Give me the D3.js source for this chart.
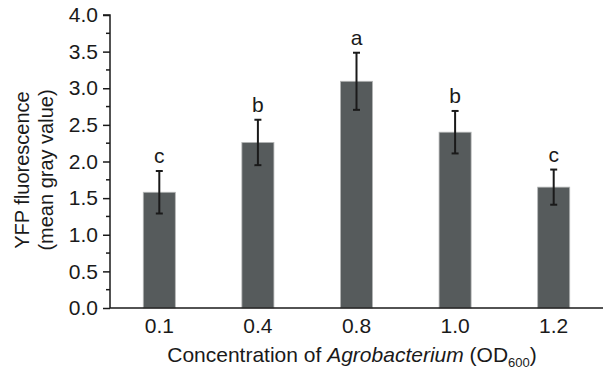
<!DOCTYPE html>
<html>
<head>
<meta charset="utf-8">
<script src="https://cdn.jsdelivr.net/npm/d3@7"></script>
<style>
  body { margin: 0; background: #fff; }
  text { font-family: "Liberation Sans", Arial, sans-serif; fill: #1a1a1a; }
</style>
</head>
<body>
<svg id="chart" width="606" height="374"></svg>
<script>
// Data
const concentrations = ["0.1", "0.4", "0.8", "1.0", "1.2"];
const means = [1.58, 2.26, 3.095, 2.40, 1.65];
const errors = [0.29, 0.31, 0.39, 0.29, 0.24];
const groups = ["c", "b", "a", "b", "c"];
const yTicks = [0, 0.5, 1, 1.5, 2, 2.5, 3, 3.5, 4];

const data = concentrations.map((c, i) => ({ c, mean: means[i], err: errors[i], group: groups[i] }));

const svg = d3.select("#chart");
const margin = { left: 110, right: 3, top: 15, bottom: 66 };
const width = 606, height = 374;
const fs = 21;

const x = d3.scaleBand()
  .domain(concentrations)
  .range([margin.left, width - margin.right])
  .paddingInner(0.675)
  .paddingOuter(0.3375);

const y = d3.scaleLinear()
  .domain([0, 4])
  .range([height - margin.bottom, margin.top]);

// Bars
svg.append("g")
  .selectAll("rect")
  .data(data)
  .join("rect")
  .attr("x", (d) => x(d.c))
  .attr("y", (d) => y(d.mean))
  .attr("width", x.bandwidth())
  .attr("height", (d) => y(0) - y(d.mean))
  .attr("fill", "#565b5c")
  .attr("stroke", "#b4b6b6")
  .attr("stroke-width", 0.8);

// Error bars
const eb = svg.append("g").attr("stroke", "#1a1a1a").attr("stroke-width", 2);
eb.selectAll("line.v")
  .data(data)
  .join("line")
  .attr("class", "v")
  .attr("x1", (d) => x(d.c) + x.bandwidth() / 2)
  .attr("x2", (d) => x(d.c) + x.bandwidth() / 2)
  .attr("y1", (d) => y(d.mean + d.err))
  .attr("y2", (d) => y(d.mean - d.err));
["top", "bot"].forEach((k) => {
  eb.selectAll("line." + k)
    .data(data)
    .join("line")
    .attr("class", k)
    .attr("x1", (d) => x(d.c) + x.bandwidth() / 2 - 3.5)
    .attr("x2", (d) => x(d.c) + x.bandwidth() / 2 + 3.5)
    .attr("y1", (d) => y(k == "top" ? d.mean + d.err : d.mean - d.err))
    .attr("y2", (d) => y(k == "top" ? d.mean + d.err : d.mean - d.err));
});

// Significance letters
svg.append("g")
  .selectAll("text")
  .data(data)
  .join("text")
  .attr("x", (d) => x(d.c) + x.bandwidth() / 2)
  .attr("y", (d) => y(d.mean + d.err) - 8)
  .attr("text-anchor", "middle")
  .attr("font-size", fs)
  .text((d) => d.group);

// Y axis with minor ticks
const yAxis = svg.append("g").attr("transform", `translate(${margin.left},0)`);
yAxis.call(
  d3.axisLeft(y)
    .tickValues(yTicks)
    .tickSize(7)
    .tickPadding(5)
    .tickFormat(d3.format(".1f"))
);
yAxis.selectAll(".tick text").attr("font-size", fs).attr("font-family", null).attr("fill", "#1a1a1a");
yAxis.selectAll("line, path").attr("stroke", "#1a1a1a").attr("stroke-width", 1.5);
yAxis.select(".domain").attr("d", `M0,${y(0)}V${y(4)}H-7`);
svg.append("g")
  .attr("stroke", "#1a1a1a")
  .attr("stroke-width", 1.5)
  .selectAll("line")
  .data(yTicks.slice(0, -1).map((t) => t + 0.25))
  .join("line")
  .attr("x1", margin.left - 4)
  .attr("x2", margin.left)
  .attr("y1", (d) => y(d))
  .attr("y2", (d) => y(d));

// X axis (no ticks)
const xAxis = svg.append("g").attr("transform", `translate(0,${y(0)})`);
xAxis.call(d3.axisBottom(x).tickSize(0).tickPadding(10).tickSizeOuter(0));
xAxis.select(".domain").attr("stroke", "#1a1a1a").attr("stroke-width", 1.5)
  .attr("d", `M${margin.left},0H${width - margin.right}`);
xAxis.selectAll(".tick text").attr("font-size", fs).attr("font-family", null).attr("fill", "#1a1a1a");

// X title
const xt = svg.append("text")
  .attr("x", 352)
  .attr("y", 362)
  .attr("text-anchor", "middle")
  .attr("font-size", fs);
xt.append("tspan").text("Concentration of ");
xt.append("tspan").attr("font-style", "italic").text("Agrobacterium");
xt.append("tspan").text(" (OD");
xt.append("tspan").attr("font-size", 13).attr("dy", 5).text("600");
xt.append("tspan").attr("dy", -5).text(")");

// Y title (two lines)
const yt = svg.append("text")
  .attr("transform", "translate(0,170) rotate(-90)")
  .attr("text-anchor", "middle")
  .attr("font-size", 20);
yt.append("tspan").attr("x", 0).attr("y", 29).text("YFP fluorescence");
yt.append("tspan").attr("x", 0).attr("y", 53).text("(mean gray value)");
</script>
</body>
</html>
